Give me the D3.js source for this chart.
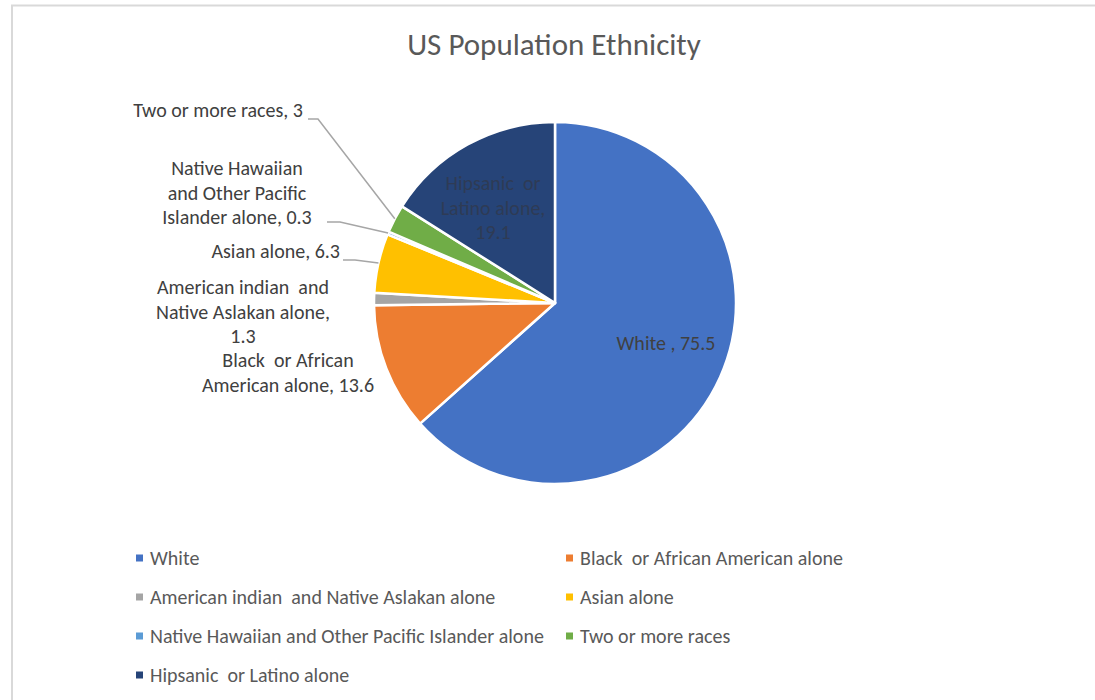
<!DOCTYPE html>
<html>
<head>
<meta charset="utf-8">
<script src="https://cdn.jsdelivr.net/npm/d3@7"></script>
<style>
  html, body { margin: 0; padding: 0; background: #fff; }
  svg text { font-family: Carlito, Calibri, Lato, "Open Sans", sans-serif; white-space: pre; }
</style>
</head>
<body>
<svg id="chart" width="1095" height="700"></svg>
<script>
// Slice categories (clockwise from 12 o'clock), their values and colours
const categories = [
  "White ",
  "Black  or African American alone",
  "American indian  and Native Aslakan alone",
  "Asian alone",
  "Native Hawaiian and Other Pacific Islander alone",
  "Two or more races",
  "Hipsanic  or Latino alone"
];
const legendNames = [
  "White",
  "Black  or African American alone",
  "American indian  and Native Aslakan alone",
  "Asian alone",
  "Native Hawaiian and Other Pacific Islander alone",
  "Two or more races",
  "Hipsanic  or Latino alone"
];
const values = [75.5, 13.6, 1.3, 6.3, 0.3, 3, 19.1];
const colors = ["#4472C4", "#ED7D31", "#A5A5A5", "#FFC000", "#5B9BD5", "#70AD47", "#264478"];

// Wrapped data label lines for each slice
const labelLines = [
  ["White , 75.5"],
  ["Black  or African", "American alone, 13.6"],
  ["American indian  and", "Native Aslakan alone,", "1.3"],
  ["Asian alone, 6.3"],
  ["Native Hawaiian", "and Other Pacific", "Islander alone, 0.3"],
  ["Two or more races, 3"],
  ["Hipsanic  or", "Latino alone,", "19.1"]
];

const svg = d3.select("#chart");
const W = 1095, H = 700;
const cx = 555, cy = 303, R = 181;
const textColor = "#404040";
const fontSize = 20;
const lineGap = 24.5;

// chart frame
svg.append("path")
  .attr("d", `M12,${H} L12,5.5 L${W},5.5`)
  .attr("fill", "none").attr("stroke", "#d9d9d9").attr("stroke-width", 2);

// title
svg.append("text")
  .attr("x", 554).attr("y", 55)
  .attr("text-anchor", "middle")
  .attr("font-size", 31)
  .attr("fill", "#595959")
  .text("US Population Ethnicity");

const pie = d3.pie().sort(null).value(d => d.value);
const data = categories.map((c, i) => ({ name: c, value: values[i], color: colors[i], lines: labelLines[i] }));
const arcs = pie(data);
const arc = d3.arc().innerRadius(0).outerRadius(R);

const g = svg.append("g").attr("transform", `translate(${cx},${cy})`);
g.selectAll("path.slice")
  .data(arcs)
  .join("path")
  .attr("class", "slice")
  .attr("d", arc)
  .attr("fill", d => d.data.color)
  .attr("stroke", "#fff")
  .attr("stroke-width", 2.5)
  .attr("stroke-linejoin", "round");

// label placement: centre x / anchor, first baseline, optional leader line start
const labelPos = [
  { x: 666, y: 350, anchor: "middle" },
  { x: 288, y: 367, anchor: "middle" },
  { x: 243, y: 294, anchor: "middle" },
  { x: 340, y: 258, anchor: "end", leader: [343, 260, 355, 260] },
  { x: 237, y: 175, anchor: "middle", leader: [327, 222, 340, 222] },
  { x: 303, y: 117, anchor: "end", leader: [308, 119, 318, 119] },
  { x: 493, y: 190, anchor: "middle" }
];

arcs.forEach((a, i) => {
  const p = labelPos[i];
  const t = svg.append("text")
    .attr("text-anchor", p.anchor)
    .attr("font-size", fontSize)
    .attr("fill", i === 6 ? "#2e3b55" : textColor);
  a.data.lines.forEach((ln, k) => {
    t.append("tspan").attr("x", p.x).attr("y", p.y + k * lineGap).text(ln);
  });
  if (p.leader) {
    const mid = (a.startAngle + a.endAngle) / 2;
    const ex = cx + R * Math.sin(mid);
    const ey = cy - R * Math.cos(mid);
    const [x0, y0, x1, y1] = p.leader;
    svg.append("polyline")
      .attr("points", `${x0},${y0} ${x1},${y1} ${ex},${ey}`)
      .attr("fill", "none")
      .attr("stroke", "#a6a6a6")
      .attr("stroke-width", 1.5);
  }
});

// legend: two columns, filled row by row
const colX = [136, 566];
const rowY = [558, 597, 636, 675];
const leg = svg.append("g");
legendNames.forEach((name, i) => {
  const x = colX[i % 2], y = rowY[Math.floor(i / 2)];
  leg.append("rect")
    .attr("x", x).attr("y", y - 3.5)
    .attr("width", 7).attr("height", 7)
    .attr("fill", colors[i]);
  leg.append("text")
    .attr("x", x + 14).attr("y", y + 7)
    .attr("font-size", fontSize)
    .attr("fill", "#595959")
    .text(name);
});
</script>
</body>
</html>
